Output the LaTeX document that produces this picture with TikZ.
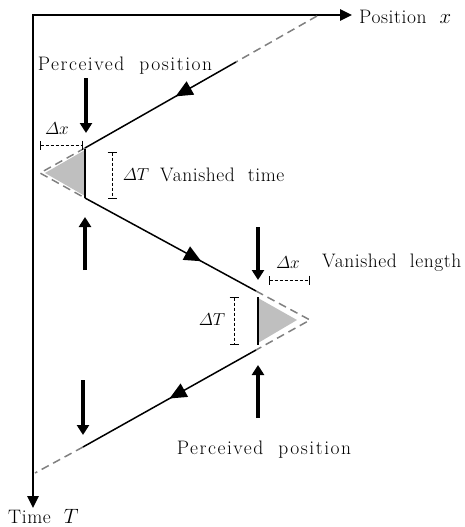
\documentclass[tikz,border=0pt]{standalone}
\usepackage{amsmath}
\usepackage{fontspec}
\newfontfamily\labelfont{Latin Modern Roman}[LetterSpace=3, WordSpace=2]
\newfontfamily\widefont{Latin Modern Roman}[LetterSpace=8, WordSpace=2]
\usetikzlibrary{arrows.meta, decorations.markings}
\tikzstyle{axis} = [
    line width=2.6pt,
    {Triangle[length=12pt, width=11pt]}-{Triangle[length=12pt, width=11pt]}
]
\tikzstyle{track} = [line width=1.5pt]
\tikzstyle{hidden} = [
    line width=1.5pt,
    draw=gray,
    dash pattern=on 8pt off 5pt
]
\tikzstyle{shade} = [fill=gray!50]
\tikzstyle{bar} = [line width=2.6pt]
\tikzstyle{pointer} = [
    line width=4.5pt,
    -{Triangle[length=10pt, width=12pt]}
]
\tikzstyle{dimline} = [
    line width=0.7pt,
    dash pattern=on 3pt off 2pt,
    {Bar[width=9pt]}-{Bar[width=9pt]}
]
\tikzstyle{txt} = [
    font=\labelfont\fontsize{19.5}{23}\selectfont,
    inner sep=0pt
]
\tikzstyle{widetxt} = [
    font=\widefont\fontsize{19.5}{23}\selectfont,
    inner sep=0pt
]
\tikzstyle{mathtxt} = [
    font=\fontsize{18}{21}\selectfont,
    inner sep=0pt
]
\tikzset{midarrow/.style={
    postaction={decorate},
    decoration={markings,
        mark=at position #1 with {\arrow{Triangle[length=17pt, width=15pt]}}}
}}

\begin{document}
\begin{tikzpicture}[x=1pt, y=-1pt]
\useasboundingbox (0,0) rectangle (464,527);

% axes
\coordinate (O) at (33,15);
\coordinate (xend) at (352,15);
\coordinate (tend) at (33,508);
\draw [axis] (xend) -- (O) -- (tend);
\node (posx) [txt, anchor=west] at (359,17) {Position $x$};
\node (timeT) [txt, anchor=base west] at (8,523) {Time $T$};

% trajectory points
\coordinate (a0) at (317,16);
\coordinate (a1) at (236,62);
\coordinate (p1) at (85,148);
\coordinate (v1) at (40,173);
\coordinate (q1) at (85,198);
\coordinate (p2) at (256,291);
\coordinate (v2) at (310,320);
\coordinate (q2) at (256,350);
\coordinate (a2) at (83,447);
\coordinate (a3) at (35,473);

% vanished parts
\fill [shade] (85,150) -- (45,173) -- (85,196) -- cycle;
\fill [shade] (258,298) -- (297,320) -- (258,343) -- cycle;
\draw [hidden] (a0) -- (a1);
\draw [hidden] (p1) -- (v1) -- (q1);
\draw [hidden] (p2) -- (v2) -- (q2);
\draw [hidden] (a2) -- (a3);

% visible parts
\draw [track, midarrow=0.4] (a1) -- (p1);
\draw [track, midarrow=0.68] (q1) -- (p2);
\draw [track, midarrow=0.5] (q2) -- (a2);
\coordinate (b1t) at (85,149);
\coordinate (b1b) at (85,198);
\coordinate (b2t) at (258,297);
\coordinate (b2b) at (258,345);
\draw [bar] (b1t) -- (b1b);
\draw [bar] (b2t) -- (b2b);

% perceived position pointers
\node (perc1) [widetxt] at (125,66) {Perceived position};
\node (perc2) [widetxt] at (264,450) {Perceived position};
\coordinate (u1s) at (86,78);
\coordinate (u1e) at (86,133);
\coordinate (d1s) at (85,270);
\coordinate (d1e) at (85,217);
\coordinate (u2s) at (258,227);
\coordinate (u2e) at (258,280);
\coordinate (d2s) at (258,418);
\coordinate (d2e) at (258,365);
\coordinate (u3s) at (83,380);
\coordinate (u3e) at (83,435);
\draw [pointer] (u1s) -- (u1e);
\draw [pointer] (d1s) -- (d1e);
\draw [pointer] (u2s) -- (u2e);
\draw [pointer] (d2s) -- (d2e);
\draw [pointer] (u3s) -- (u3e);

% vanished length and time
\coordinate (dx1a) at (40,145);
\coordinate (dx1b) at (83,145);
\draw [dimline] (dx1a) -- (dx1b);
\node (dx1) [mathtxt] at (57,129) {$\varDelta x$};
\coordinate (dt1a) at (112,152);
\coordinate (dt1b) at (112,199);
\draw [dimline] (dt1a) -- (dt1b);
\node (dt1) [mathtxt] at (136,175) {$\varDelta T$};
\node (vtime) [txt, anchor=west] at (160,175) {Vanished time};
\coordinate (dx2a) at (269,280);
\coordinate (dx2b) at (310,280);
\draw [dimline] (dx2a) -- (dx2b);
\node (dx2) [mathtxt] at (288,263) {$\varDelta x$};
\node (vlength) [txt, anchor=west] at (322,263) {Vanished length};
\coordinate (dt2a) at (234,297);
\coordinate (dt2b) at (234,345);
\draw [dimline] (dt2a) -- (dt2b);
\node (dt2) [mathtxt] at (212,320) {$\varDelta T$};

\end{tikzpicture}
\end{document}
